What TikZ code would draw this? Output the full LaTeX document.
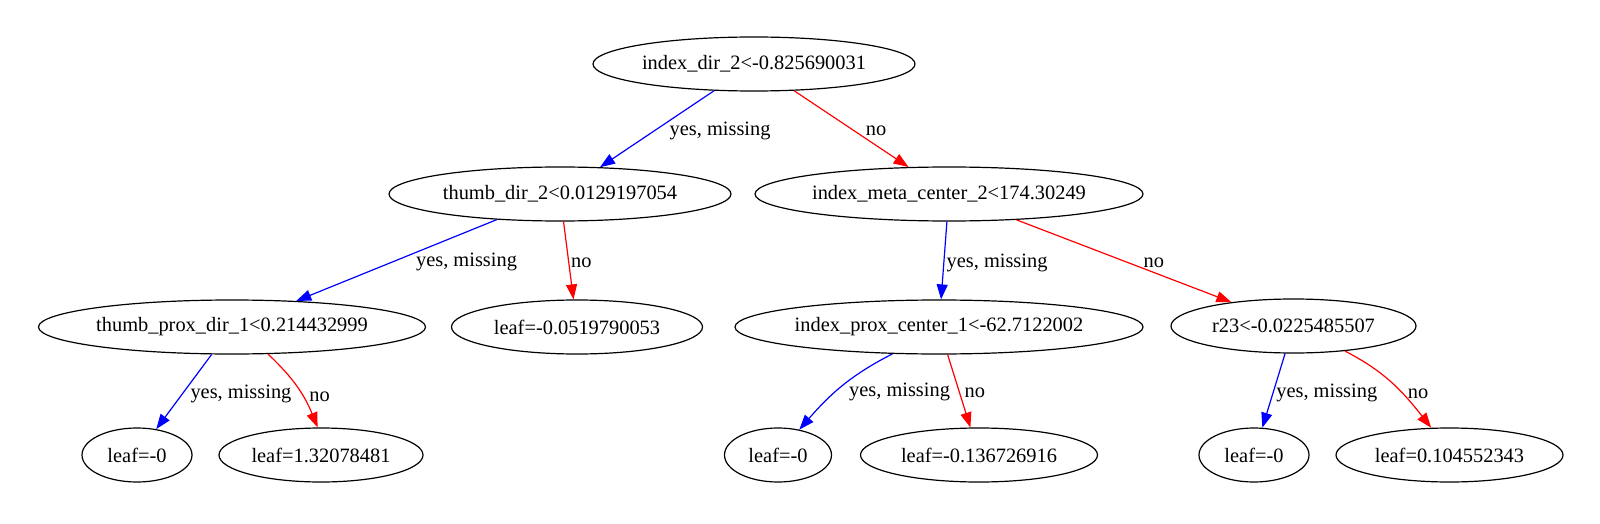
\documentclass[tikz,border=0pt]{standalone}
\usepackage{fontspec}
\setmainfont{Liberation Serif}
\usetikzlibrary{arrows.meta,shapes.geometric}
\definecolor{yesBlue}{RGB}{0,0,255}
\definecolor{noRed}  {RGB}{255,0,0}

\tikzset{
  treenode/.style={draw,ellipse,line width=1.2pt,inner sep=0pt,minimum height=54pt,
                   font=\fontsize{20.4}{24}\selectfont},
  yesedge/.style={yesBlue,line width=1.2pt,-{Triangle[length=15pt,width=11pt]}},
  noedge/.style={noRed,line width=1.2pt,-{Triangle[length=15pt,width=11pt]}},
  lbl/.style={black,inner sep=0pt,yshift=-2pt,font=\fontsize{20.4}{24}\selectfont}
}

\begin{document}
\begin{tikzpicture}[x=1pt,y=1pt]
        \useasboundingbox (0,0) rectangle (1600,523);
        % splits
        \node[treenode,minimum width=322pt] (root)       at (754,459) {index\_dir\_2<-0.825690031};
        \node[treenode,minimum width=342pt] (thumbDir)   at (560,329) {thumb\_dir\_2<0.0129197054};
        \node[treenode,minimum width=388pt] (metaCenter) at (949,329) {index\_meta\_center\_2<174.30249};
        \node[treenode,minimum width=387pt] (thumbProx)  at (232,196) {thumb\_prox\_dir\_1<0.214432999};
        \node[treenode,minimum width=251pt] (leafB)      at (577,196) {leaf=-0.0519790053};
        \node[treenode,minimum width=404pt] (proxCenter) at (939,196) {index\_prox\_center\_1<-62.7122002};
        \node[treenode,minimum width=245pt] (rTwoThree)  at (1293.5,197) {r23<-0.0225485507};
        % leaves
        \node[treenode,minimum width=110pt] (leafA1) at (137,68)  {leaf=-0};
        \node[treenode,minimum width=204pt] (leafA2) at (321,68)  {leaf=1.32078481};
        \node[treenode,minimum width=107pt] (leafC1) at (778,68)  {leaf=-0};
        \node[treenode,minimum width=237pt] (leafC2) at (979,68)  {leaf=-0.136726916};
        \node[treenode,minimum width=110pt] (leafD1) at (1254,68) {leaf=-0};
        \node[treenode,minimum width=227pt] (leafD2) at (1449.5,68) {leaf=0.104552343};
        % edges
        \draw[yesedge] (root) -- node[lbl,right=12pt]{yes, missing} (thumbDir);
        \draw[noedge]  (root) -- node[lbl,right=14pt]{no} (metaCenter);
        \draw[yesedge] (thumbDir) -- node[lbl,right=19pt]{yes, missing} (thumbProx);
        \draw[noedge]  (thumbDir) -- node[lbl,right=2pt]{no} (leafB);
        \draw[yesedge] (metaCenter) -- node[lbl,right=2pt]{yes, missing} (proxCenter);
        \draw[noedge]  (metaCenter) -- node[lbl,right=19pt]{no} (rTwoThree);
        \draw[yesedge] (thumbProx) -- node[lbl,right=6pt]{yes, missing} (leafA1);
        \draw[noedge]  (thumbProx.-37) to[out=-43,in=112] node[lbl,pos=0.6,right=7pt]{no} (leafA2.97);
        \draw[yesedge] (proxCenter.-150) to[out=-153,in=49] node[lbl,pos=0.55,right=11pt]{yes, missing} (leafC1.50);
        \draw[noedge]  (proxCenter) -- node[lbl,right=5pt]{no} (leafC2);
        \draw[yesedge] (rTwoThree) -- node[lbl,right=2pt]{yes, missing} (leafD1);
        \draw[noedge]  (rTwoThree.-26) to[out=-27,in=128] node[lbl,pos=0.6,right=7pt]{no} (leafD2.124);
      \end{tikzpicture}
\end{document}
